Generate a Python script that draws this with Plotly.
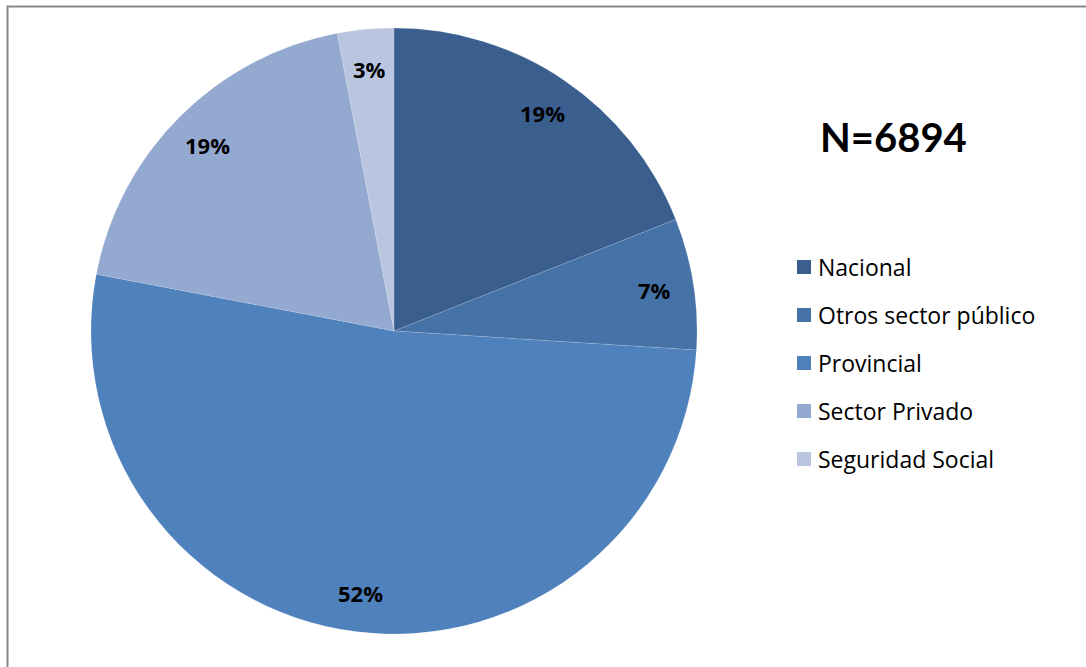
import math
import plotly.graph_objects as go

# Distribución por sector (porcentaje del total)
categories = ["Nacional", "Otros sector público", "Provincial", "Sector Privado", "Seguridad Social"]
percentages = [19, 7, 52, 19, 3]
colors = ["#3A5F8E", "#4572A7", "#4F81BD", "#94A9CF", "#BAC6E0"]
total_label = "N=6894"

W, H = 1086, 667
cx, cy, r = 394, 331, 303  # pie centre / radius in pixels

fig = go.Figure(
    go.Pie(
        labels=categories,
        values=percentages,
        sort=False,
        direction="clockwise",
        rotation=0,
        marker=dict(colors=colors, line=dict(color="rgba(255,255,255,0.25)", width=0.5)),
        textinfo="none",
        hoverinfo="label+percent",
        showlegend=False,
        domain=dict(x=[(cx - r) / W, (cx + r) / W], y=[1 - (cy + r) / H, 1 - (cy - r) / H]),
    )
)

annotations = []
# percentage labels placed near the outer part of each slice
tot = sum(percentages)
cum = 0
for cat, v in zip(categories, percentages):
    mid = (cum + v / 2) / tot * 2 * math.pi
    cum += v
    k = 0.87
    px = cx + k * r * math.sin(mid)
    py = cy - k * r * math.cos(mid)
    annotations.append(dict(
        x=px / W, y=1 - py / H, xref="paper", yref="paper",
        text=f"<b>{round(v / tot * 100)}%</b>", showarrow=False,
        font=dict(family="Open Sans", size=22, color="#000000"),
        xanchor="center", yanchor="middle",
    ))

# total count
annotations.append(dict(
    x=893 / W, y=1 - 137 / H, xref="paper", yref="paper",
    text=f"<b>{total_label}</b>", showarrow=False,
    font=dict(family="Lato", size=40, color="#000000"),
    xanchor="center", yanchor="middle",
))

# legend built from the category and colour lists
shapes = []
leg_x, leg_y0, leg_dy, sw = 797, 267, 48, 14
for i, (cat, col) in enumerate(zip(categories, colors)):
    yy = leg_y0 + i * leg_dy
    shapes.append(dict(
        type="rect", xref="paper", yref="paper",
        x0=leg_x / W, x1=(leg_x + sw) / W,
        y0=1 - (yy + sw / 2) / H, y1=1 - (yy - sw / 2) / H,
        fillcolor=col, line=dict(width=0),
    ))
    annotations.append(dict(
        x=(leg_x + sw + 5) / W, y=1 - yy / H, xref="paper", yref="paper",
        text=cat, showarrow=False,
        font=dict(family="Open Sans", size=23, color="#000000"),
        xanchor="left", yanchor="middle",
    ))

# chart frame
shapes.append(dict(
    type="rect", xref="paper", yref="paper",
    x0=7.5 / W, x1=1.02, y0=-0.02, y1=1 - 6.5 / H,
    line=dict(color="#878787", width=2), fillcolor="rgba(0,0,0,0)",
))

fig.update_layout(
    width=W, height=H,
    margin=dict(l=0, r=0, t=0, b=0),
    paper_bgcolor="white",
    plot_bgcolor="white",
    annotations=annotations,
    shapes=shapes,
)

fig.write_html("out.html")
